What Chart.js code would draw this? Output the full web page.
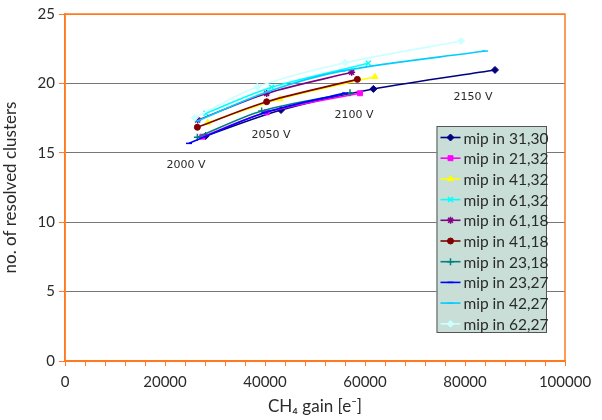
<!DOCTYPE html>
<html>
<head>
<meta charset="utf-8">
<script src="https://cdn.jsdelivr.net/npm/chart.js@4/dist/chart.umd.min.js"></script>
<style>
html,body{margin:0;padding:0;background:#fff;}
#wrap{width:602px;height:420px;}
</style>
</head>
<body>
<div id="wrap"><canvas id="c" width="602" height="420"></canvas></div>
<script>
// ---- data ----
const seriesLabels = ['mip in 31,30','mip in 21,32','mip in 41,32','mip in 61,32','mip in 61,18',
                      'mip in 41,18','mip in 23,18','mip in 23,27','mip in 42,27','mip in 62,27'];
const gain3130 = [28130, 43200, 61670, 86000];
const clus3130 = [16.21, 18.08, 19.60, 20.97];
const gain2132 = [27470, 40330, 59000];
const clus2132 = [16.16, 17.92, 19.29];
const gain4132 = [28540, 43000, 62000];
const clus4132 = [17.17, 18.88, 20.48];
const gain6132 = [28200, 41330, 60670];
const clus6132 = [17.85, 19.72, 21.45];
const gain6118 = [26540, 40330, 57330];
const clus6118 = [17.36, 19.28, 20.80];
const gain4118 = [26470, 40330, 58470];
const clus4118 = [16.84, 18.68, 20.29];
const gain2318 = [26470, 39330, 57000];
const clus2318 = [16.12, 18.01, 19.33];
const gain2327 = [24800, 40000, 56000];
const clus2327 = [15.68, 17.90, 19.30];
const gain4227 = [26500, 40500, 55500, 84000];
const clus4227 = [17.30, 19.40, 20.90, 22.33];
const gain6227 = [25940, 38470, 56000, 79200];
const clus6227 = [17.53, 19.76, 21.49, 23.05];

const voltLabels = ['2000 V', '2050 V', '2100 V', '2150 V'];
const voltGain   = [24200, 41200, 57800, 81600];
const voltClus   = [14.1, 16.3, 17.7, 19.0];

const yTicks = [0, 5, 10, 15, 20, 25];
const xTickLabels = [0, 20000, 40000, 60000, 80000, 100000];

// ---- styles ----
const colors = ['#000080','#FF00FF','#FFFF00','#00FFFF','#800080','#800000','#008080','#0000FF','#00CCFF','#CCFFFF'];
const pstyles = ['rectRot','rect','triangle','crossRot','star','circle','cross','line','line','rectRot'];
const gains = [gain3130,gain2132,gain4132,gain6132,gain6118,gain4118,gain2318,gain2327,gain4227,gain6227];
const clus  = [clus3130,clus2132,clus4132,clus6132,clus6118,clus4118,clus2318,clus2327,clus4227,clus6227];

const FONT = 'Lato, "DejaVu Sans", sans-serif';
const ORANGE = '#FF7A20';
const TEXT = '#2a2a2a';

const datasets = seriesLabels.map((lab, i) => ({
  label: lab,
  data: gains[i].map((g, k) => ({x: g, y: clus[i][k]})),
  borderColor: colors[i],
  backgroundColor: colors[i],
  pointBorderColor: colors[i],
  pointBackgroundColor: colors[i],
  pointStyle: pstyles[i],
  pointRadius: pstyles[i] === 'line' ? 3 : (pstyles[i] === 'circle' ? 3 : 3.5),
  pointBorderWidth: (pstyles[i]==='crossRot'||pstyles[i]==='cross'||pstyles[i]==='star'||pstyles[i]==='line') ? 1.5 : 1,
  borderWidth: 1.6,
  tension: 0.3,
  fill: false,
  order: 10 - i
}));

const framePlugin = {
  id: 'frame',
  afterDatasetsDraw(chart) {
    const {ctx, chartArea: a} = chart;
    ctx.save();
    ctx.strokeStyle = ORANGE;
    ctx.lineWidth = 1.5;
    ctx.strokeRect(a.left, a.top, a.right - a.left, a.bottom - a.top);
    ctx.restore();
  }
};

const voltPlugin = {
  id: 'volts',
  afterDatasetsDraw(chart) {
    const {ctx, scales} = chart;
    ctx.save();
    ctx.font = '11px "DejaVu Sans", sans-serif';
    ctx.fillStyle = TEXT;
    ctx.textAlign = 'center';
    ctx.textBaseline = 'middle';
    voltLabels.forEach((t, i) => {
      ctx.fillText(t, scales.x.getPixelForValue(voltGain[i]), scales.y.getPixelForValue(voltClus[i]));
    });
    ctx.restore();
  }
};

const legendPlugin = {
  id: 'boxLegend',
  afterDraw(chart) {
    const {ctx, chartArea: a} = chart;
    const left = a.right - 128.5, top = a.top + 112, w = 109.5, h = 206;
    ctx.save();
    ctx.fillStyle = '#C8DED6';
    ctx.fillRect(left, top, w, h);
    ctx.strokeStyle = '#555555';
    ctx.lineWidth = 1;
    ctx.strokeRect(left + 0.5, top + 0.5, w, h);
    ctx.font = '15.5px ' + FONT;
    ctx.textBaseline = 'middle';
    ctx.textAlign = 'left';
    chart.data.datasets.forEach((ds, i) => {
      const y = top + 11.5 + i * 20.7;
      ctx.strokeStyle = ds.borderColor;
      ctx.lineWidth = 1.6;
      ctx.beginPath();
      ctx.moveTo(left + 4, y);
      ctx.lineTo(left + 24, y);
      ctx.stroke();
      ctx.fillStyle = ds.backgroundColor;
      ctx.strokeStyle = ds.borderColor;
      ctx.lineWidth = ds.pointBorderWidth;
      Chart.helpers.drawPoint(ctx, {pointStyle: ds.pointStyle, rotation: 0, radius: ds.pointRadius, borderWidth: ds.pointBorderWidth}, left + 14, y);
      ctx.fillStyle = TEXT;
      ctx.fillText(ds.label, left + 27, y + 1);
    });
    ctx.restore();
  }
};

new Chart(document.getElementById('c'), {
  type: 'line',
  data: { datasets },
  options: {
    responsive: false,
    animation: false,
    layout: { padding: { left: 0, right: 37, top: 14, bottom: 0 } },
    plugins: { legend: { display: false }, tooltip: { enabled: false } },
    scales: {
      x: {
        type: 'linear',
        min: 0, max: 100000,
        afterBuildTicks(scale) {
          const t = [];
          for (let v = 0; v <= 100000; v += 4000) t.push({value: v});
          scale.ticks = t;
        },
        afterFit(scale) { scale.height = 59; },
        grid: { drawOnChartArea: false, drawTicks: true, tickLength: 5, color: ORANGE, tickColor: ORANGE, lineWidth: 1 },
        border: { display: true, color: ORANGE, width: 1.5 },
        ticks: {
          autoSkip: false, maxRotation: 0, padding: 7,
          font: { family: FONT, size: 15 }, color: TEXT,
          callback: (v) => xTickLabels.includes(v) ? String(v) : ''
        },
        title: { display: true, text: 'CH\u2084 gain [e\u207B]', font: { family: FONT, size: 17 }, color: TEXT, padding: { top: 0, bottom: 3 } }
      },
      y: {
        min: 0, max: 25,
        afterBuildTicks(scale) { scale.ticks = yTicks.map(v => ({value: v})); },
        afterFit(scale) { scale.width = 65; },
        grid: {
          color: (c) => (c.tick && (c.tick.value === 0 || c.tick.value === 25)) ? ORANGE : '#777777',
          tickColor: ORANGE, tickLength: 6, lineWidth: 1
        },
        border: { display: true, color: ORANGE, width: 1.5 },
        ticks: { font: { family: FONT, size: 15 }, color: TEXT, padding: 4 },
        title: { display: true, text: 'no. of resolved clusters', font: { family: FONT, size: 17 }, color: TEXT, padding: { top: 0, bottom: 4 } }
      }
    }
  },
  plugins: [framePlugin, voltPlugin, legendPlugin]
});
</script>
</body>
</html>
